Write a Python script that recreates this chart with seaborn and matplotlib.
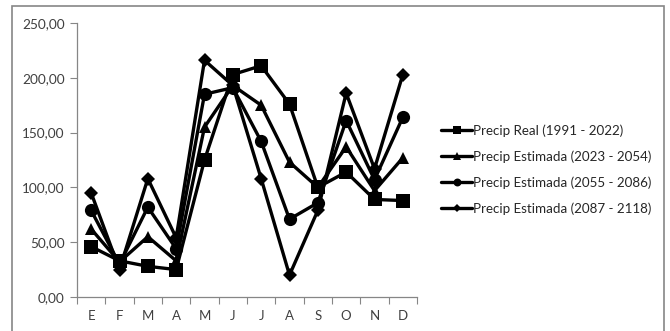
import matplotlib
matplotlib.use("Agg")
import matplotlib.pyplot as plt
import seaborn as sns
import pandas as pd
from matplotlib.patches import Rectangle
from matplotlib.ticker import FuncFormatter, FixedLocator

months = ["E", "F", "M", "A", "M", "J", "J", "A", "S", "O", "N", "D"]
series_names = [
    "Precip Real (1991 - 2022)",
    "Precip Estimada (2023 - 2054)",
    "Precip Estimada (2055 - 2086)",
    "Precip Estimada (2087 - 2118)",
]
real_1991 = [46, 33, 28, 25, 125, 203, 211, 176, 100, 114, 89, 88]
est_2023 = [62, 32, 55, 33, 155, 193, 175, 123, 100, 137, 97, 127]
est_2055 = [79, 30, 82, 44, 185, 191, 142, 71, 86, 161, 107, 164]
est_2087 = [95, 25, 108, 54, 216, 193, 108, 20, 79, 186, 117, 203]

values = [real_1991, est_2023, est_2055, est_2087]
rows = []
for name, vals in zip(series_names, values):
    for i, v in enumerate(vals):
        rows.append({"pos": i, "valor": v, "serie": name})
df = pd.DataFrame(rows)

sns.set_style("white")
plt.rcParams["font.family"] = ["Lato", "DejaVu Sans"]

fig = plt.figure(figsize=(6.7, 3.31), dpi=100)
ax = fig.add_axes([77 / 670, 1 - 297 / 331, 340 / 670, 274 / 331])

markers = dict(zip(series_names, ["s", "^", "o", "D"]))
sizes = {"s": 10, "^": 9, "o": 9.5, "D": 7.5}
sns.lineplot(data=df, x="pos", y="valor", hue="serie", style="serie",
             palette=["black"] * 4, markers=markers, dashes=False,
             linewidth=2.4, ax=ax, legend=False)
for line, name in zip(ax.get_lines(), series_names):
    line.set_markersize(sizes[markers[name]])
    line.set_markeredgewidth(0)

ax.set_xlim(-0.5, 11.5)
ax.set_ylim(0, 250)
ax.set_yticks([0, 50, 100, 150, 200, 250])
ax.yaxis.set_major_formatter(FuncFormatter(lambda v, p: f"{v:.2f}".replace(".", ",")))
ax.xaxis.set_major_locator(FixedLocator([i - 0.5 for i in range(13)]))
ax.xaxis.set_minor_locator(FixedLocator(list(range(12))))
ax.set_xticklabels([])
ax.set_xticklabels(months, minor=True)
ax.tick_params(axis="x", which="major", length=5, color="#868686", direction="out", bottom=True)
ax.tick_params(axis="x", which="minor", length=0, pad=9, labelsize=9.5, labelcolor="#404040", bottom=True)
ax.tick_params(axis="y", length=5, color="#868686", direction="out", pad=4, labelsize=9.8, labelcolor="#404040", left=True)
ax.set_xlabel("")
ax.set_ylabel("")
for s in ["top", "right"]:
    ax.spines[s].set_visible(False)
for s in ["left", "bottom"]:
    ax.spines[s].set_color("#868686")
    ax.spines[s].set_linewidth(0.9)

# legend
handles = []
for name in series_names:
    h, = ax.plot([], [], color="black", linewidth=2.4, marker=markers[name],
                 markersize=sizes[markers[name]] * 0.6, markeredgewidth=0)
    handles.append(h)
fig.legend(handles, series_names, loc="upper left", bbox_to_anchor=(436 / 670, 1 - 119 / 331),
           frameon=False, fontsize=9.6, handlelength=2.3, handletextpad=0.05,
           labelspacing=1.0, borderaxespad=0)

fig.patches.append(Rectangle((12.5 / 670, -0.05), 651.5 / 670, 1.05 - 6.5 / 331,
                             transform=fig.transFigure, fill=False,
                             edgecolor="#868686", linewidth=1.2))

fig.savefig("out.png", dpi=100)
